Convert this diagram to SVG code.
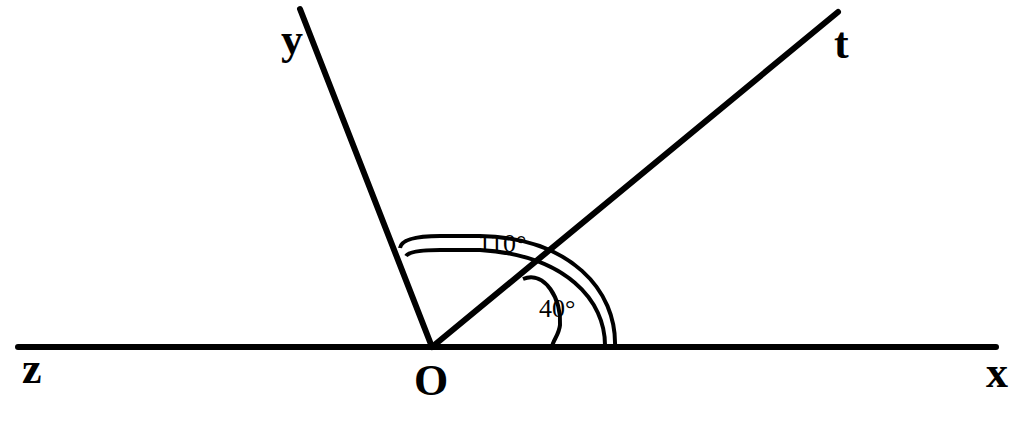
<svg xmlns="http://www.w3.org/2000/svg" width="1024" height="440" viewBox="0 0 1024 440">
<style>
.ln{stroke:#000;stroke-width:6;stroke-linecap:round;fill:none}
.arc{stroke:#000;stroke-width:4;fill:none}
.lbl{font-family:"Liberation Serif",serif;font-weight:bold;font-size:44px;fill:#000}
.ang{font-family:"Liberation Serif",serif;font-size:26px;fill:#000}
</style>
<rect width="1024" height="440" fill="#fff"/>
<g id="connectors">
<line class="ln" x1="18" y1="347" x2="996" y2="347"/>
<line class="ln" x1="432" y1="347" x2="300" y2="9"/>
<line class="ln" x1="432" y1="347" x2="838" y2="12"/>
</g>
<g id="arcs">
<path class="arc" d="M 400 248 Q 402 236 440 236 L 480 236 C 570 238 617 290 615 347"/>
<path class="arc" d="M 406 256 Q 410 250 440 250 L 480 250 C 565 255 606 300 605 347"/>
<path class="arc" d="M 523 279 C 545 270 562 300 560 325 C 559 335 553 340 552 347"/>
</g>
<g id="labels">
<text class="lbl" x="281" y="54">y</text>
<text class="lbl" x="834" y="58">t</text>
<text class="lbl" x="22" y="383">z</text>
<text class="lbl" x="414" y="395">O</text>
<text class="lbl" x="986" y="387">x</text>
<text class="ang" x="478" y="252">110°</text>
<text class="ang" x="539" y="317">40°</text>
</g>
</svg>
